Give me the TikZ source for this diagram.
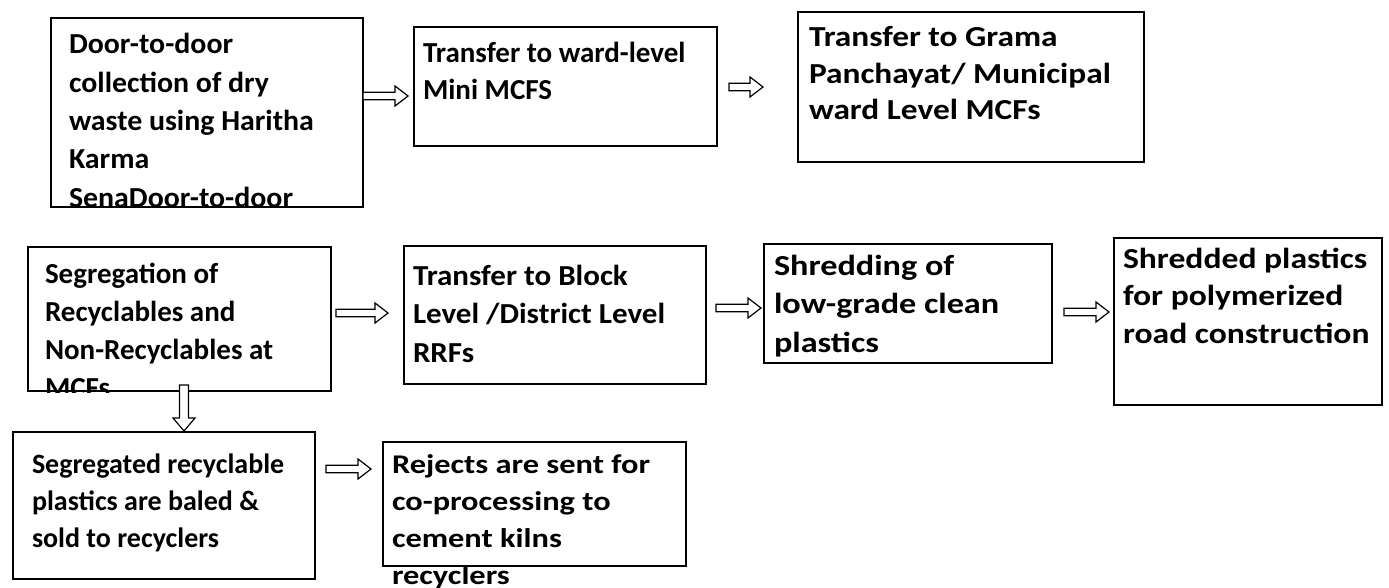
\documentclass[tikz,border=0pt]{standalone}
\usepackage{fontspec}
\setmainfont{Carlito}
\newfontfamily\fsA[FakeStretch=1.03]{Carlito}
\newfontfamily\fsC[FakeStretch=1.15]{Carlito}
\newfontfamily\fsE[FakeStretch=1.07]{Carlito}
\newfontfamily\fsF[FakeStretch=1.18]{Carlito}
\newfontfamily\fsG[FakeStretch=1.16]{Carlito}
\newfontfamily\fsI[FakeStretch=1.2]{Carlito}
\usetikzlibrary{calc}
\newcommand\tline[1]{\hbox{#1}}
\tikzset{
  box/.style={draw=black, line width=2pt, rectangle, inner sep=0pt, outer sep=0pt, anchor=north west},
  txt/.style={anchor=base west, inner sep=0pt, outer sep=0pt, text=black},
  barrow/.style={draw=black, line width=1.2pt, fill=white, line join=miter}
}
\newcommand\hflow[2]{%
  \draw[barrow] ($(#1)+(0,-3.8)$) -- ($(#2)+(-13,-3.8)$) -- ($(#2)+(-13,-10)$) -- (#2)
     -- ($(#2)+(-13,10)$) -- ($(#2)+(-13,3.8)$) -- ($(#1)+(0,3.8)$) -- cycle;}
\newcommand\vflow[2]{%
  \draw[barrow] ($(#1)+(-4.5,0)$) -- ($(#2)+(-4.5,-13)$) -- ($(#2)+(-11,-13)$) -- (#2)
     -- ($(#2)+(11,-13)$) -- ($(#2)+(4.5,-13)$) -- ($(#1)+(4.5,0)$) -- cycle;}
\begin{document}
\begin{tikzpicture}[x=1pt, y=-1pt]
\useasboundingbox (0,0) rectangle (1389,588);
\fill[white] (0,0) rectangle (1389,588);

% boxes
\node[box, minimum width=312pt, minimum height=189pt] (A) at (51,18) {};
\node[box, minimum width=303pt, minimum height=119pt] (B) at (414,27) {};
\node[box, minimum width=346pt, minimum height=150pt] (C) at (798,12) {};
\node[box, minimum width=303pt, minimum height=144pt] (D) at (28,247) {};
\node[box, minimum width=302pt, minimum height=138pt] (E) at (404,246) {};
\node[box, minimum width=288pt, minimum height=119pt] (F) at (764,244) {};
\node[box, minimum width=268pt, minimum height=167pt] (G) at (1114,238) {};
\node[box, minimum width=302pt, minimum height=147pt] (H) at (13,432) {};
\node[box, minimum width=303pt, minimum height=124pt] (I) at (383,442) {};

% texts (clipped at the box bottoms where they overflow)
\begin{scope}
  \clip (40,0) rectangle (380,208);
  \node[txt, font=\fsA\bfseries\fontsize{29}{38.3}\selectfont] (At) at (69,54)
    {\vtop{\tline{Door-to-door}\tline{collection of dry}\tline{waste using Haritha}\tline{Karma}\tline{SenaDoor-to-door}}};
\end{scope}
\node[txt, font=\bfseries\fontsize{29}{37}\selectfont] (Bt) at (423,63)
  {\vtop{\tline{Transfer to ward-level}\tline{Mini MCFS}}};
\node[txt, font=\fsC\bfseries\fontsize{29}{36.5}\selectfont] (Ct) at (809,47)
  {\vtop{\tline{Transfer to Grama}\tline{Panchayat/ Municipal}\tline{ward Level MCFs}}};
\begin{scope}
  \clip (20,230) rectangle (340,392);
  \node[txt, font=\bfseries\fontsize{29}{38.3}\selectfont] (Dt) at (45,283)
    {\vtop{\tline{Segregation of}\tline{Recyclables and}\tline{Non-Recyclables at}\tline{MCFs}}};
\end{scope}
\node[txt, font=\fsE\bfseries\fontsize{29}{38.5}\selectfont] (Et) at (413,285)
  {\vtop{\tline{Transfer to Block}\tline{Level /District Level}\tline{RRFs}}};
\begin{scope}
  \clip (750,230) rectangle (1060,364);
  \node[txt, font=\fsF\bfseries\fontsize{29}{38.5}\selectfont] (Ft) at (774,275)
    {\vtop{\tline{Shredding of}\tline{low-grade clean}\tline{plastics}}};
\end{scope}
\node[txt, font=\fsG\bfseries\fontsize{29}{37.5}\selectfont] (Gt) at (1123,268)
  {\vtop{\tline{Shredded plastics}\tline{for polymerized}\tline{road construction}}};
\node[txt, font=\bfseries\fontsize{28}{37}\selectfont] (Ht) at (32,473)
  {\vtop{\tline{Segregated recyclable}\tline{plastics are baled \&}\tline{sold to recyclers}}};
\node[txt, font=\fsI\bfseries\fontsize{27}{37}\selectfont] (It) at (392,473)
  {\vtop{\tline{Rejects are sent for}\tline{co-processing to}\tline{cement kilns}\tline{\vphantom{R}}\hbox{}}};
\node[txt, font=\fsI\bfseries\fontsize{27}{37}\selectfont] (It2) at (392,584) {recyclers};

% arrow end points
\coordinate (ab1) at (A.east |- 0,96);
\coordinate (ab2) at ($(B.west |- 0,96)+(-6,0)$);
\coordinate (bc1) at ($(B.east |- 0,87)+(12,0)$);
\coordinate (bc2) at ($(C.west |- 0,87)+(-35,0)$);
\coordinate (de1) at ($(D.east |- 0,313)+(5,0)$);
\coordinate (de2) at ($(E.west |- 0,313)+(-16,0)$);
\coordinate (ef1) at ($(E.east |- 0,308)+(10,0)$);
\coordinate (ef2) at ($(F.west |- 0,308)+(-3,0)$);
\coordinate (fg1) at ($(F.east |- 0,312)+(12,0)$);
\coordinate (fg2) at ($(G.west |- 0,312)+(-5,0)$);
\coordinate (dh1) at ($(D.south -| 184,0)+(0,-6)$);
\coordinate (dh2) at ($(H.north -| 184,0)+(0,-1)$);
\coordinate (hi1) at ($(H.east |- 0,469)+(11,0)$);
\coordinate (hi2) at ($(I.west |- 0,469)+(-12,0)$);

\hflow{ab1}{ab2}
\hflow{bc1}{bc2}
\hflow{de1}{de2}
\hflow{ef1}{ef2}
\hflow{fg1}{fg2}
\vflow{dh1}{dh2}
\hflow{hi1}{hi2}
\end{tikzpicture}
\end{document}
